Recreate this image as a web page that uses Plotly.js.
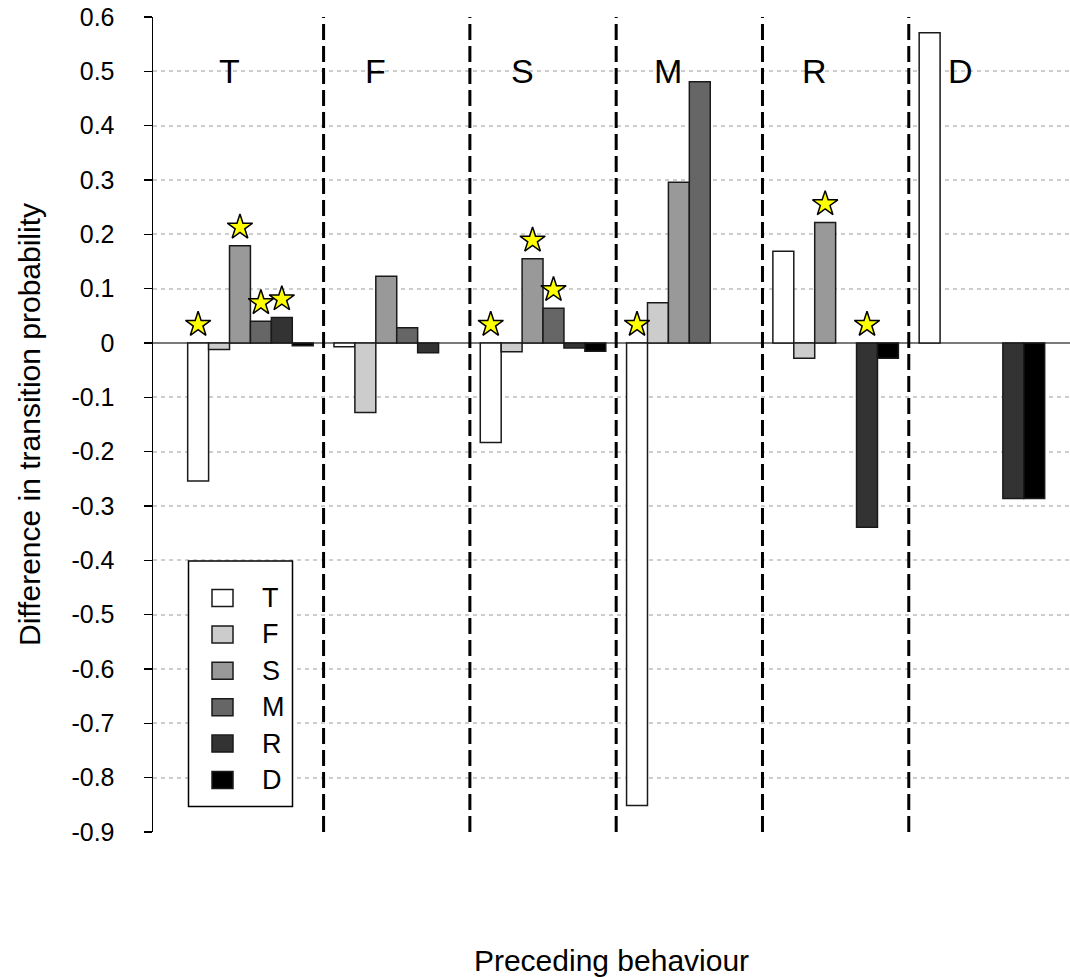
<!DOCTYPE html>
<html>
<head>
<meta charset="utf-8">
<script src="https://cdn.plot.ly/plotly-3.0.1.min.js"></script>
<style>
  html, body { margin: 0; padding: 0; background: #ffffff; }
  #chart { width: 1070px; height: 977px; }
</style>
</head>
<body>
<div id="chart"></div>
<script>
// ---------- data ----------
const groups = ['T', 'F', 'S', 'M', 'R', 'D'];           // preceding behaviour
const seriesNames = ['T', 'F', 'S', 'M', 'R', 'D'];      // following behaviour
const seriesColors = ['#ffffff', '#cccccc', '#999999', '#666666', '#333333', '#000000'];

// values per series, one per preceding-behaviour group (null = no bar)
const valT = [-0.254, -0.007, -0.183, -0.851, 0.169, 0.571];
const valF = [-0.012, -0.128, -0.016, 0.074, -0.028, null];
const valS = [0.179, 0.123, 0.155, 0.296, 0.222, null];
const valM = [0.040, 0.028, 0.064, 0.481, null, null];
const valR = [0.047, -0.018, -0.009, null, -0.339, -0.286];
const valD = [-0.005, null, -0.015, null, -0.028, -0.286];

// significant differences (star markers)
const sigT = [1, 0, 1, 1, 0, 0];
const sigF = [0, 0, 0, 0, 0, 0];
const sigS = [1, 0, 1, 0, 1, 0];
const sigM = [1, 0, 1, 0, 0, 0];
const sigR = [1, 0, 0, 0, 1, 0];
const sigD = [0, 0, 0, 0, 0, 0];

const tickVals = [0.6, 0.5, 0.4, 0.3, 0.2, 0.1, 0, -0.1, -0.2, -0.3, -0.4, -0.5, -0.6, -0.7, -0.8, -0.9];
const tickText = ['0.6', '0.5', '0.4', '0.3', '0.2', '0.1', '0', '-0.1', '-0.2', '-0.3', '-0.4', '-0.5', '-0.6', '-0.7', '-0.8', '-0.9'];

// ---------- build ----------
const values = [valT, valF, valS, valM, valR, valD];
const sigs = [sigT, sigF, sigS, sigM, sigR, sigD];
const FONT = 'Liberation Sans, Arial, sans-serif';
const W = 1070, H = 977;
const M = { l: 153, r: 0, t: 17, b: 145 };
const plotW = W - M.l - M.r, plotH = H - M.t - M.b;
const BARGAP = 0.142;
const barW = (1 - BARGAP) / seriesNames.length;
const groupX = groups.map((g, i) => i);

const traces = seriesNames.map((name, s) => ({
  type: 'bar',
  name: name,
  x: groupX,
  y: values[s],
  marker: { color: seriesColors[s], line: { color: '#1a1a1a', width: 1.5 } },
  showlegend: false,
  hoverinfo: 'skip'
}));

// stars above significant bars
const starX = [], starY = [];
const STAR_OFFSET = 0.034;
seriesNames.forEach((name, s) => {
  groupX.forEach((gx, g) => {
    if (sigs[s][g]) {
      starX.push(gx + (s - (seriesNames.length - 1) / 2) * barW);
      starY.push(Math.max(values[s][g] || 0, 0) + STAR_OFFSET);
    }
  });
});
traces.push({
  type: 'scatter',
  mode: 'markers',
  x: starX,
  y: starY,
  marker: { symbol: 'star', size: 19, color: '#ffff00', line: { color: '#000000', width: 1.5 } },
  showlegend: false,
  cliponaxis: false,
  hoverinfo: 'skip'
});

// separators between groups
const shapes = [];
for (let g = 0; g < groups.length - 1; g++) {
  shapes.push({
    type: 'line', xref: 'x', yref: 'y',
    x0: g + 0.5, x1: g + 0.5, y0: -0.9, y1: 0.6,
    line: { color: '#000000', width: 3, dash: '16px,6px' }
  });
}

// group labels
const annotations = groups.map((g, i) => ({
  x: i, y: 0.5, xref: 'x', yref: 'y',
  xshift: -21,
  text: g, showarrow: false,
  font: { family: FONT, size: 34, color: '#000000' },
  xanchor: 'center', yanchor: 'middle'
}));

// legend (box, swatches, labels) in pixel terms converted to paper coords
const px2x = px => (px - M.l) / plotW;
const px2y = py => (M.t + plotH - py) / plotH;
shapes.push({
  type: 'rect', xref: 'paper', yref: 'paper',
  x0: px2x(188.5), x1: px2x(292.5), y0: px2y(806.5), y1: px2y(561),
  line: { color: '#000000', width: 1.5 }, fillcolor: '#ffffff', layer: 'above'
});
seriesNames.forEach((name, s) => {
  const cy = 598 + s * 36.4;
  shapes.push({
    type: 'rect', xref: 'paper', yref: 'paper',
    x0: px2x(212), x1: px2x(233), y0: px2y(cy + 8.5), y1: px2y(cy - 8.5),
    line: { color: '#1a1a1a', width: 1.5 }, fillcolor: seriesColors[s], layer: 'above'
  });
  annotations.push({
    xref: 'paper', yref: 'paper', x: px2x(260), y: px2y(cy),
    text: name, showarrow: false, xanchor: 'left', yanchor: 'middle',
    font: { family: FONT, size: 27, color: '#000000' }
  });
});

const layout = {
  width: W, height: H,
  margin: M,
  paper_bgcolor: '#ffffff', plot_bgcolor: '#ffffff',
  font: { family: FONT, color: '#000000' },
  barmode: 'group', bargap: BARGAP, bargroupgap: 0,
  showlegend: false,
  xaxis: {
    type: 'linear', range: [-0.666, 5.602],
    showgrid: false, zeroline: false, showline: false,
    showticklabels: false, ticks: '',
    title: { text: 'Preceding behaviour', font: { family: FONT, size: 30, color: '#000000' }, standoff: 118 },
    automargin: false, fixedrange: true
  },
  yaxis: {
    range: [-0.9, 0.6],
    tickvals: tickVals, ticktext: tickText,
    tickfont: { family: FONT, size: 25, color: '#000000' },
    ticks: 'outside', ticklen: 8, tickwidth: 1.5, tickcolor: '#000000',
    ticklabelstandoff: 24,
    showline: true, linecolor: '#000000', linewidth: 1.5,
    showgrid: true, gridcolor: '#cdcdcd', gridwidth: 2, griddash: '4px,4px',
    zeroline: true, zerolinecolor: '#7a7a7a', zerolinewidth: 2,
    title: { text: 'Difference in transition probability', font: { family: FONT, size: 30, color: '#000000' }, standoff: 22 },
    automargin: false, fixedrange: true
  },
  shapes: shapes,
  annotations: annotations
};

Plotly.newPlot('chart', traces, layout, { displayModeBar: false, staticPlot: true });
</script>
</body>
</html>
